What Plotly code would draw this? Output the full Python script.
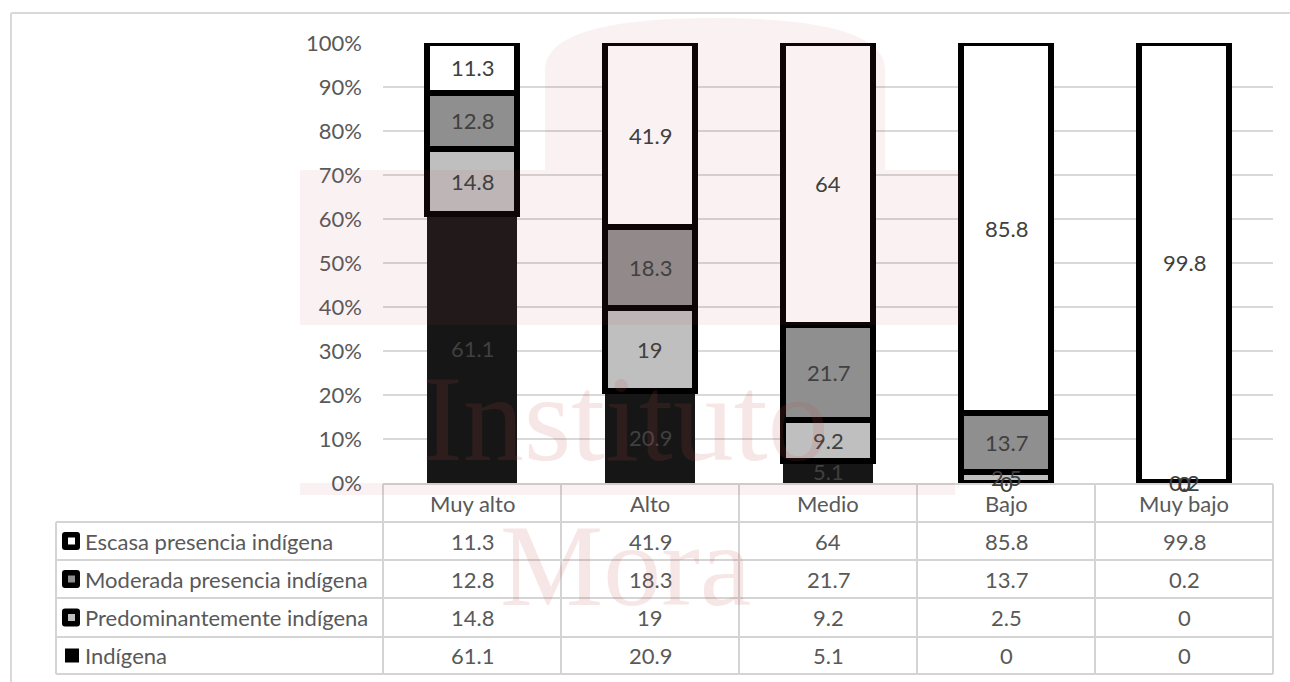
import plotly.graph_objects as go

# ---- data -------------------------------------------------------------
categories = ["Muy alto", "Alto", "Medio", "Bajo", "Muy bajo"]
series_names = [
    "Escasa presencia indígena",
    "Moderada presencia indígena",
    "Predominantemente indígena",
    "Indígena",
]
escasa = [11.3, 41.9, 64, 85.8, 99.8]
moderada = [12.8, 18.3, 21.7, 13.7, 0.2]
predominante = [14.8, 19, 9.2, 2.5, 0]
indigena = [61.1, 20.9, 5.1, 0, 0]
y_ticks = [0, 10, 20, 30, 40, 50, 60, 70, 80, 90, 100]

# table rows (top to bottom) and stack order (bottom to top)
table_rows = [escasa, moderada, predominante, indigena]
stack = [indigena, predominante, moderada, escasa]
stack_names = series_names[::-1]

# ---- styling ----------------------------------------------------------
FONT = "Lato"
TXT = "#595959"
LBL = "#404040"
GRID = "#d9d9d9"
fills = {
    "Escasa presencia indígena": "#ffffff",
    "Moderada presencia indígena": "#8f8f8f",
    "Predominantemente indígena": "#bfbfbf",
    "Indígena": "#161616",
}
outline = {
    "Escasa presencia indígena": 6,
    "Moderada presencia indígena": 6,
    "Predominantemente indígena": 6,
    "Indígena": 0,
}

W, H = 1290, 682
PL, PR, PT, PB = 383, 1273, 43, 483  # plot area in pixels


def px(x):
    return (x - PL) / (PR - PL)


def py(y):
    return (PB - y) / (PB - PT)


def note(text, x, y, xref="paper", yref="paper", xanchor="center", size=22, color=TXT,
         family=FONT):
    return dict(x=x, y=y, xref=xref, yref=yref, xanchor=xanchor, yanchor="middle",
                text=text, showarrow=False, font=dict(family=family, size=size, color=color))


fig = go.Figure()
for name, vals in zip(stack_names, stack):
    fig.add_trace(go.Bar(
        x=categories, y=vals, name=name,
        marker=dict(color=fills[name], line=dict(color="#000000", width=outline[name])),
        showlegend=False, hoverinfo="x+y+name",
    ))

annotations = []

# segment value labels at the centre of each normalised segment
totals = [sum(s[i] for s in stack) for i in range(len(categories))]
for i, cat in enumerate(categories):
    base = 0.0
    for vals in stack:
        share = vals[i] / totals[i] * 100
        annotations.append(note(f"{vals[i]:g}", cat, base + share / 2, xref="x", yref="y",
                                color=LBL))
        base += share

# ---- data table below the plot ----------------------------------------
header_top, header_bot = 484, 522
row_edges = [522, 560, 598, 637, 674]
label_left = 56
shapes = []
line_style = dict(color="#d4d4d4", width=2)

shapes.append(dict(type="line", xref="paper", yref="paper",
                   x0=px(PL), x1=px(PR), y0=py(header_top), y1=py(header_top), line=line_style))
for e in row_edges:
    shapes.append(dict(type="line", xref="paper", yref="paper",
                       x0=px(label_left), x1=px(PR), y0=py(e), y1=py(e), line=line_style))
shapes.append(dict(type="line", xref="paper", yref="paper",
                   x0=px(label_left), x1=px(label_left), y0=py(row_edges[0]), y1=py(row_edges[-1]),
                   line=line_style))
for k in range(len(categories) + 1):
    xb = k / len(categories)
    shapes.append(dict(type="line", xref="paper", yref="paper",
                       x0=xb, x1=xb, y0=py(header_top), y1=py(row_edges[-1]), line=line_style))

for cat in categories:
    annotations.append(note(cat, cat, py((header_top + header_bot) / 2), xref="x"))

for r, (name, vals) in enumerate(zip(series_names, table_rows)):
    yc = (row_edges[r] + row_edges[r + 1]) / 2
    annotations.append(note(name, px(83), py(yc), xanchor="left"))
    for cat, v in zip(categories, vals):
        annotations.append(note(f"{v:g}", cat, py(yc), xref="x"))
    # legend key
    if name == "Indígena":
        shapes.append(dict(type="rect", xref="paper", yref="paper",
                           x0=px(65), x1=px(79), y0=py(yc - 7), y1=py(yc + 7),
                           fillcolor="#000000", line=dict(width=0)))
    else:
        x0, x1, y0, y1, rr = 62, 80, yc - 9, yc + 9, 3
        path = (f"M {px(x0 + rr)},{py(y0)} L {px(x1 - rr)},{py(y0)} "
                f"Q {px(x1)},{py(y0)} {px(x1)},{py(y0 + rr)} L {px(x1)},{py(y1 - rr)} "
                f"Q {px(x1)},{py(y1)} {px(x1 - rr)},{py(y1)} L {px(x0 + rr)},{py(y1)} "
                f"Q {px(x0)},{py(y1)} {px(x0)},{py(y1 - rr)} L {px(x0)},{py(y0 + rr)} "
                f"Q {px(x0)},{py(y0)} {px(x0 + rr)},{py(y0)} Z")
        shapes.append(dict(type="path", xref="paper", yref="paper", path=path,
                           fillcolor="#000000", line=dict(width=0)))
        shapes.append(dict(type="rect", xref="paper", yref="paper",
                           x0=px(68), x1=px(75), y0=py(yc - 3.5), y1=py(yc + 3.5),
                           fillcolor=fills[name], line=dict(width=0)))

# chart frame (top and left edges)
shapes.append(dict(type="line", xref="paper", yref="paper",
                   x0=px(11), x1=px(W), y0=py(13), y1=py(13), line=dict(color=GRID, width=2)))
shapes.append(dict(type="line", xref="paper", yref="paper",
                   x0=px(11), x1=px(11), y0=py(13), y1=py(H), line=dict(color=GRID, width=2)))

# ---- institutional watermark -----------------------------------------
WM = "rgba(192,80,77,0.075)"
bld = (f"M {px(300)},{py(325)} L {px(300)},{py(170)} L {px(545)},{py(170)} "
       f"L {px(545)},{py(70)} Q {px(545)},{py(18)} {px(715)},{py(18)} "
       f"Q {px(885)},{py(18)} {px(885)},{py(70)} L {px(885)},{py(170)} "
       f"L {px(960)},{py(170)} L {px(960)},{py(325)} Z")
shapes.append(dict(type="path", xref="paper", yref="paper", path=bld,
                   fillcolor=WM, line=dict(width=0), layer="above"))
shapes.append(dict(type="rect", xref="paper", yref="paper",
                   x0=px(300), x1=px(955), y0=py(495), y1=py(483),
                   fillcolor=WM, line=dict(width=0), layer="above"))
annotations.append(note("Instituto", px(625), py(418), size=122,
                        color="rgba(192,80,77,0.14)", family="Liberation Serif"))
annotations.append(note("Mora", px(625), py(566), size=116,
                        color="rgba(192,80,77,0.14)", family="Liberation Serif"))

fig.update_layout(
    width=W, height=H, autosize=False,
    margin=dict(l=PL, r=W - PR, t=PT, b=H - PB, pad=0),
    paper_bgcolor="#ffffff", plot_bgcolor="#ffffff",
    barmode="stack", barnorm="percent", bargap=0.49,
    font=dict(family=FONT, color=TXT),
    xaxis=dict(showticklabels=False, showgrid=False, zeroline=False, ticks="",
               range=[-0.5, len(categories) - 0.5]),
    yaxis=dict(range=[0, 100], tickmode="array", tickvals=y_ticks,
               ticktext=[f"{t}%" for t in y_ticks], showgrid=True,
               gridcolor=GRID, gridwidth=1.5, zeroline=False, showline=False,
               tickfont=dict(family=FONT, size=22, color=TXT), ticklabelstandoff=20),
    shapes=shapes, annotations=annotations,
)

fig.write_html("out.html")
